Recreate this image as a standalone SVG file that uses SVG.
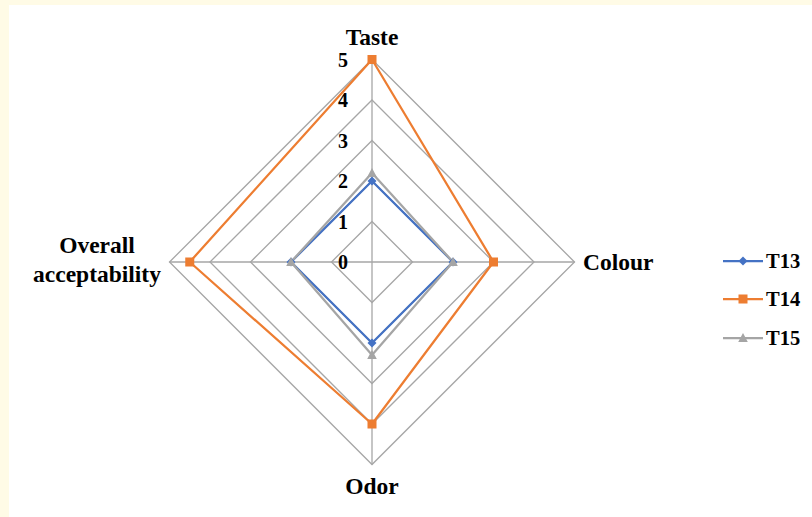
<svg xmlns="http://www.w3.org/2000/svg" width="812" height="517" viewBox="0 0 812 517">
<style>
.grid{fill:none;stroke:#a6a6a6;stroke-width:1.3}
.lbl{font-family:"Liberation Serif",serif;font-weight:bold;font-size:23.5px;fill:#000}
.leg{font-family:"Liberation Serif",serif;font-weight:bold;font-size:20.5px;fill:#000}
.tick{font-family:"Liberation Serif",serif;font-weight:bold;font-size:20px;fill:#000;text-anchor:middle}
.s13{fill:none;stroke:#4472c4;stroke-width:2.25;stroke-linejoin:round}
.s14{fill:none;stroke:#ed7d31;stroke-width:2.25;stroke-linejoin:round}
.s15{fill:none;stroke:#a5a5a5;stroke-width:2.25;stroke-linejoin:round}
</style>
<defs>
<path id="dia" d="M0,-4.5 L4.5,0 L0,4.5 L-4.5,0 Z" fill="#4472c4"/>
<rect id="sq" x="-4.5" y="-4.5" width="9" height="9" fill="#ed7d31"/>
<path id="tri" d="M0,-5 L4.8,4 L-4.8,4 Z" fill="#a5a5a5"/>
</defs>
<rect x="0" y="0" width="812" height="517" fill="#fffbe6"/>
<rect x="9" y="5" width="803" height="512" fill="#ffffff"/>
<g id="grid">
<polygon class="grid" points="372,221.5 412.5,262 372,302.5 331.5,262"/>
<polygon class="grid" points="372,181 453,262 372,343 291,262"/>
<polygon class="grid" points="372,140.5 493.5,262 372,383.5 250.5,262"/>
<polygon class="grid" points="372,100 534,262 372,424 210,262"/>
<polygon class="grid" points="372,59.5 574.5,262 372,464.5 169.5,262"/>
<line class="grid" x1="372" y1="262" x2="372" y2="59.5"/>
<line class="grid" x1="372" y1="262" x2="574.5" y2="262"/>
<line class="grid" x1="372" y1="262" x2="372" y2="464.5"/>
<line class="grid" x1="372" y1="262" x2="169.5" y2="262"/>
</g>
<g id="ticks">
<text class="tick" x="343" y="269">0</text>
<text class="tick" x="343" y="229">1</text>
<text class="tick" x="343" y="188">2</text>
<text class="tick" x="343" y="148">3</text>
<text class="tick" x="343" y="107">4</text>
<text class="tick" x="343" y="67">5</text>
</g>
<g id="connectors">
<polygon class="s13" points="372,181 453,262 372,343 291,262"/>
<polygon class="s14" points="372,59.5 493.5,262 372,424 189.75,262"/>
<polygon class="s15" points="372,172.9 453,262 372,355 291,262"/>
</g>
<g id="T13">
<use href="#dia" x="372" y="181"/><use href="#dia" x="453" y="262"/><use href="#dia" x="372" y="343"/><use href="#dia" x="291" y="262"/>
</g>
<g id="T14">
<use href="#sq" x="372" y="59.5"/><use href="#sq" x="493.5" y="262"/><use href="#sq" x="372" y="424"/><use href="#sq" x="189.75" y="262"/>
</g>
<g id="T15">
<use href="#tri" x="372" y="172.9"/><use href="#tri" x="453" y="262"/><use href="#tri" x="372" y="355"/><use href="#tri" x="291" y="262"/>
</g>
<g id="taste"><text class="lbl" x="372" y="45" text-anchor="middle">Taste</text></g>
<g id="colour"><text class="lbl" x="583" y="270">Colour</text></g>
<g id="odor"><text class="lbl" x="372" y="494" text-anchor="middle">Odor</text></g>
<g id="overall"><text class="lbl" x="97" y="253" text-anchor="middle">Overall</text><text class="lbl" x="97" y="282" text-anchor="middle">acceptability</text></g>
<g id="legend">
<line class="s13" x1="723" y1="261" x2="763" y2="261"/><use href="#dia" x="743" y="261"/>
<text class="leg" x="766" y="268">T13</text>
<line class="s14" x1="723" y1="299" x2="763" y2="299"/><use href="#sq" x="743" y="299"/>
<text class="leg" x="766" y="306">T14</text>
<line class="s15" x1="723" y1="338" x2="763" y2="338"/><use href="#tri" x="743" y="338"/>
<text class="leg" x="766" y="345">T15</text>
</g>
</svg>
